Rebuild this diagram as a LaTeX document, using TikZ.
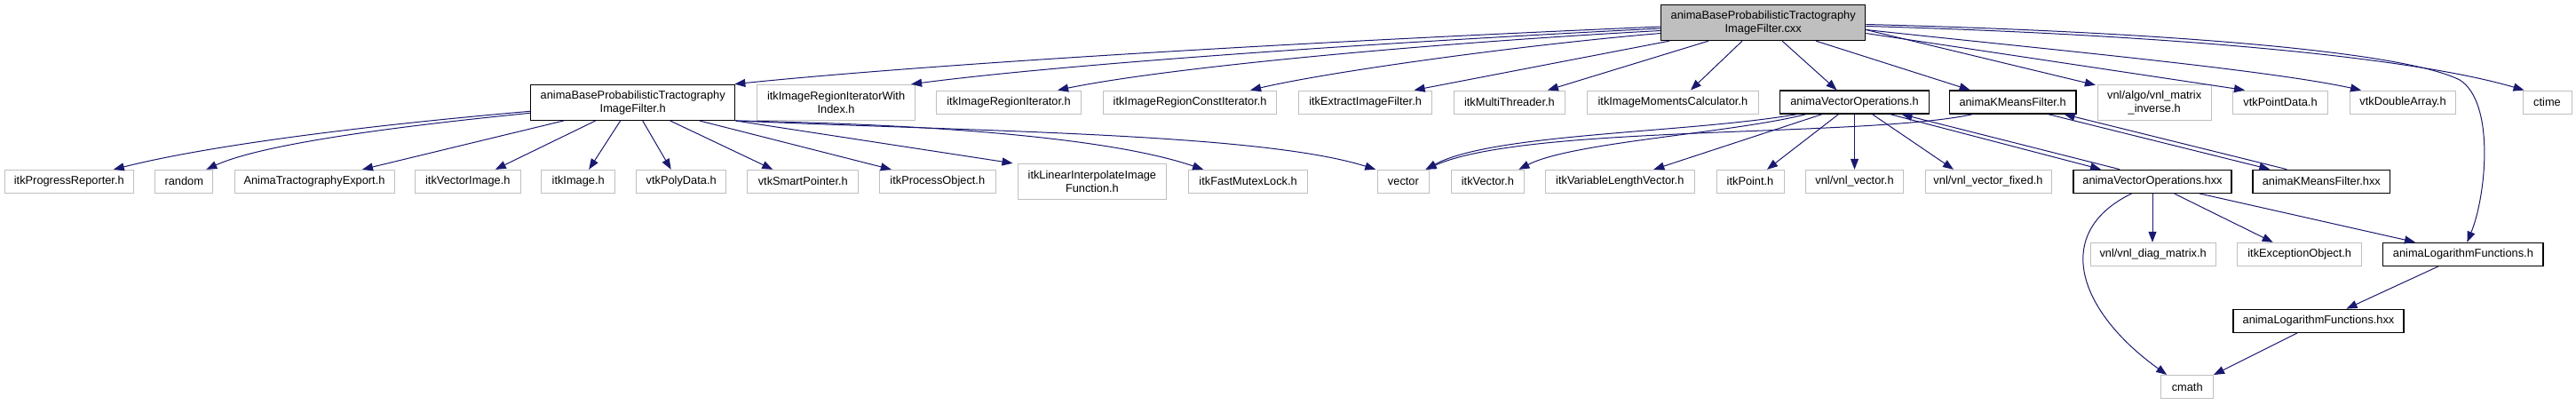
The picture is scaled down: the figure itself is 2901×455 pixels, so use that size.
\documentclass[tikz,border=0pt]{standalone}
\usepackage{fontspec}
\setmainfont{Liberation Sans}
\usetikzlibrary{arrows.meta}
\definecolor{edgecol}{HTML}{191970}
\definecolor{extcol}{HTML}{BFBFBF}
\begin{document}
\begin{tikzpicture}[x=1pt,y=-1pt,
  box/.style={rectangle, inner sep=0pt, minimum height=26pt, align=center,
    font=\fontsize{12.8}{15}\selectfont},
  ext/.style={box, draw=extcol, line width=1pt},
  doc/.style={box, draw=black, line width=1.3pt},
  mainbox/.style={box, draw=black, line width=1.3pt, fill=extcol},
  dep/.style={draw=edgecol, line width=1pt, -{Triangle[length=12pt,width=9pt]}}]
\useasboundingbox (0,0) rectangle (2901,455);
% row 0
\node[mainbox, minimum width=230pt, minimum height=40pt] (cxx) at (1985.7,25.5) {animaBaseProbabilisticTractography\\ImageFilter.cxx};
% row 1
\node[doc, minimum width=230pt, minimum height=40pt] (bpf) at (712.7,115.3) {animaBaseProbabilisticTractography\\ImageFilter.h};
\node[ext, minimum width=178pt, minimum height=40pt] (iriwi) at (941.6,115.3) {itkImageRegionIteratorWith\\Index.h};
\node[ext, minimum width=162.7pt] (iri) at (1136.1,115) {itkImageRegionIterator.h};
\node[ext, minimum width=195.7pt] (irci) at (1340.1,115) {itkImageRegionConstIterator.h};
\node[ext, minimum width=150.5pt] (eif) at (1537.6,115) {itkExtractImageFilter.h};
\node[ext, minimum width=125.8pt] (mt) at (1699.9,115) {itkMultiThreader.h};
\node[ext, minimum width=192.6pt] (imc) at (1883.9,115) {itkImageMomentsCalculator.h};
\node[doc, minimum width=167.7pt] (avoh) at (2088.5,115) {animaVectorOperations.h};
\node[doc, minimum width=142.7pt] (akmh) at (2266.6,115) {animaKMeansFilter.h};
\node[ext, minimum width=127.6pt, minimum height=40pt] (vnlmi) at (2426.2,115.3) {vnl/algo/vnl\_matrix\\\_inverse.h};
\node[ext, minimum width=106.5pt] (vtkpd) at (2568,115) {vtkPointData.h};
\node[ext, minimum width=119.4pt] (vtkda) at (2706,115) {vtkDoubleArray.h};
\node[ext, minimum width=55pt] (ctime) at (2868.5,115) {ctime};
% row 2
\node[ext, minimum width=145.5pt] (pr) at (77.8,204.3) {itkProgressReporter.h};
\node[ext, minimum width=65pt] (random) at (207.3,204.3) {random};
\node[ext, minimum width=180pt] (ate) at (354,204.3) {AnimaTractographyExport.h};
\node[ext, minimum width=118.5pt] (vi) at (526.8,204.3) {itkVectorImage.h};
\node[ext, minimum width=83pt] (img) at (651.2,204.3) {itkImage.h};
\node[ext, minimum width=100.8pt] (polyd) at (767.2,204.3) {vtkPolyData.h};
\node[ext, minimum width=125pt] (sp) at (904.3,204.3) {vtkSmartPointer.h};
\node[ext, minimum width=130.8pt] (po) at (1055.8,204.3) {itkProcessObject.h};
\node[ext, minimum width=167.8pt, minimum height=40pt] (liif) at (1229.9,204.3) {itkLinearInterpolateImage\\Function.h};
\node[ext, minimum width=134pt] (fml) at (1405.6,204.3) {itkFastMutexLock.h};
\node[ext, minimum width=57.3pt] (vector) at (1580.4,204.3) {vector};
\node[ext, minimum width=82.8pt] (itkvec) at (1675.4,204.3) {itkVector.h};
\node[ext, minimum width=167.8pt] (vlv) at (1824.3,204.3) {itkVariableLengthVector.h};
\node[ext, minimum width=76pt] (point) at (1971,204.3) {itkPoint.h};
\node[ext, minimum width=110.3pt] (vnlv) at (2088.5,204.3) {vnl/vnl\_vector.h};
\node[ext, minimum width=142pt] (vnlvf) at (2239,204.3) {vnl/vnl\_vector\_fixed.h};
\node[doc, minimum width=178pt] (avohxx) at (2424,204.3) {animaVectorOperations.hxx};
\node[doc, minimum width=154.5pt] (akmhxx) at (2614.3,204.3) {animaKMeansFilter.hxx};
% row 3
\node[ext, minimum width=141.2pt] (diag) at (2424.6,286.3) {vnl/vnl\_diag\_matrix.h};
\node[ext, minimum width=140pt] (eo) at (2589.7,286.3) {itkExceptionObject.h};
\node[doc, minimum width=180.2pt] (alfh) at (2773.9,286.3) {animaLogarithmFunctions.h};
% row 4, 5
\node[doc, minimum width=192.2pt] (alfhxx) at (2611,361.3) {animaLogarithmFunctions.hxx};
\node[ext, minimum width=58.5pt] (cmath) at (2463.2,435.5) {cmath};

% edges from cxx
\draw[dep] ([yshift=-4.5pt]cxx.west) .. controls (1450,48) and (1050,72) .. ([xshift=-1pt]bpf.north east);
\draw[dep] ([yshift=-6.5pt]cxx.west) .. controls (1550,48) and (1200,72) .. ([xshift=-5pt]iriwi.north east);
\draw[dep] ([yshift=-9pt]cxx.west) .. controls (1620,48) and (1320,75) .. ([xshift=55pt]iri.north);
\draw[dep] ([yshift=-12pt]cxx.west) .. controls (1720,50) and (1500,80) .. ([xshift=68pt]irci.north);
\draw[dep] ([xshift=10pt]cxx.south west) -- ([xshift=55pt]eif.north);
\draw[dep] ([xshift=54pt]cxx.south west) -- ([xshift=43pt]mt.north);
\draw[dep] ([xshift=92pt]cxx.south west) -- ([xshift=20pt]imc.north);
\draw[dep] ([xshift=137pt]cxx.south west) -- ([xshift=-20pt]avoh.north);
\draw[dep] ([xshift=175pt]cxx.south west) -- ([xshift=-48pt]akmh.north);
\draw[dep] ([yshift=-8pt]cxx.east) -- ([xshift=-2pt,yshift=-1pt]vnlmi.north west);
\draw[dep] ([yshift=-12pt]cxx.east) -- ([xshift=-40pt]vtkpd.north);
\draw[dep] ([yshift=-8pt]cxx.east) .. controls (2300,55) and (2550,78) .. ([xshift=-47pt]vtkda.north);
\draw[dep] ([yshift=-4pt]cxx.east) .. controls (2400,38) and (2700,60) .. ([xshift=-26pt]ctime.north);
\draw[dep] ([yshift=-2pt]cxx.east) .. controls (2400,35) and (2700,55) .. (2770,90) .. controls (2810,115) and (2800,220) .. ([xshift=4.5pt]alfh.north);

% edges from bpf
\draw[dep] ([yshift=-10pt]bpf.west) .. controls (450,138) and (250,160) .. ([xshift=50pt]pr.north);
\draw[dep] ([yshift=-12pt]bpf.west) .. controls (470,140) and (300,160) .. ([xshift=25pt]random.north);
\draw[dep] ([xshift=-78pt]bpf.south) -- ([xshift=54pt]ate.north);
\draw[dep] ([xshift=-42pt]bpf.south) -- ([xshift=31pt]vi.north);
\draw[dep] ([xshift=-14pt]bpf.south) -- ([xshift=12pt]img.north);
\draw[dep] ([xshift=11pt]bpf.south) -- ([xshift=-11.5pt]polyd.north);
\draw[dep] ([xshift=42pt]bpf.south) -- ([xshift=-34pt]sp.north);
\draw[dep] ([xshift=75pt]bpf.south) -- ([xshift=-52pt]po.north);
\draw[dep] (bpf.south east) -- ([xshift=-5pt]liif.north west);
\draw[dep] (bpf.south east) .. controls (1050,140) and (1250,155) .. ([xshift=17pt]fml.north west);
\draw[dep] (bpf.south east) .. controls (1100,148) and (1420,150) .. ([xshift=-2pt]vector.north west);

% edges from animaVectorOperations.h
\draw[dep] ([xshift=20pt]avoh.south west) .. controls (1900,150) and (1680,150) .. ([xshift=-4pt]vector.north east);
\draw[dep] ([xshift=30pt]avoh.south west) .. controls (1950,150) and (1770,160) .. ([xshift=35pt]itkvec.north);
\draw[dep] ([xshift=48pt]avoh.south west) -- ([xshift=38pt]vlv.north);
\draw[dep] ([xshift=-18pt]avoh.south) -- ([xshift=19pt]point.north);
\draw[dep] (avoh.south) -- (vnlv.north);
\draw[dep] ([xshift=20pt]avoh.south) -- ([xshift=-39pt]vnlvf.north);
\draw[dep] ([xshift=40pt]avoh.south) -- ([xshift=-58pt]avohxx.north);
\draw[dep] ([xshift=-37pt]avohxx.north) -- ([xshift=53pt]avoh.south);

% edges from animaKMeansFilter.h
\draw[dep] ([xshift=-45pt]akmh.south) .. controls (2100,155) and (1720,140) .. ([xshift=-4pt]vector.north east);
\draw[dep] ([xshift=40pt]akmh.south) -- ([xshift=-58pt]akmhxx.north);
\draw[dep] ([xshift=-39pt]akmhxx.north) -- ([xshift=58pt]akmh.south);

% edges from animaVectorOperations.hxx
\draw[dep] (avohxx.south) -- (avohxx.south |- diag.north);
\draw[dep] ([xshift=24.5pt]avohxx.south) -- ([xshift=-30pt]eo.north);
\draw[dep] ([xshift=53pt]avohxx.south) -- ([xshift=-54pt]alfh.north);
\draw[dep] ([xshift=-23.5pt]avohxx.south) .. controls (2310,262) and (2340,350) .. ([xshift=-23pt]cmath.north);

% logarithm functions
\draw[dep] ([xshift=-28pt]alfh.south) -- ([xshift=31.5pt]alfhxx.north);
\draw[dep] ([xshift=-24pt]alfhxx.south) -- (cmath.north east);
\end{tikzpicture}
\end{document}
